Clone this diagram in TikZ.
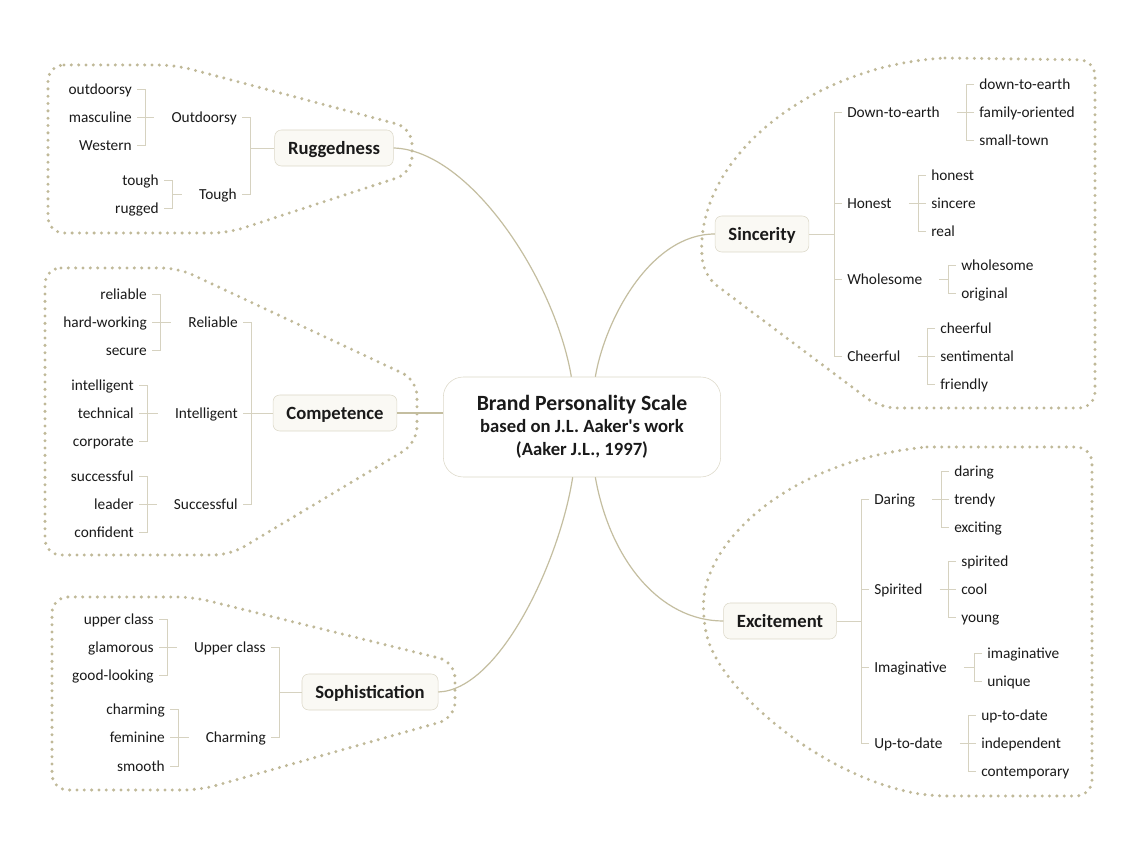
\documentclass[tikz,border=0pt]{standalone}
\usepackage{fontspec}
\setmainfont{Carlito}[Ligatures=TeXOff]
\definecolor{dotline}{RGB}{192,185,152}
\definecolor{branchline}{RGB}{196,190,160}
\definecolor{twigline}{RGB}{214,210,192}
\definecolor{boxfill}{RGB}{250,249,244}
\definecolor{boxline}{RGB}{220,216,200}
\definecolor{inktext}{RGB}{26,26,26}
\begin{document}
\begin{tikzpicture}[x=0.75pt,y=-0.75pt,
    leaf/.style={font=\fontsize{11.5}{13}\selectfont, text=inktext, inner xsep=3.75pt, inner ysep=1pt, text height=10.5pt, text depth=2pt},
    topic/.style={draw=boxline, fill=boxfill, rounded corners=5pt, font=\fontsize{14}{16}\selectfont\bfseries, text=inktext, minimum height=27pt, inner xsep=10pt, text height=12pt, text depth=2pt},
    titlebox/.style={draw=boxline, fill=white, rounded corners=15pt, font=\fontsize{14}{17.5}\selectfont\bfseries, text=inktext, align=center, minimum width=208pt, minimum height=75pt},
    twig/.style={draw=twigline, line width=0.6pt},
    branch/.style={draw=branchline, line width=0.9pt},
    boundary/.style={draw=dotline, line width=2.5pt, line cap=round, dash pattern=on 0pt off 5.5pt, rounded corners=12pt}]
  \fill[white] (0,0) rectangle (1140,855);
  \useasboundingbox (0,0) rectangle (1140,855);

  \draw[boundary] (48,65) -- (175,65) -- (412,128) -- (412,173) -- (228,233) -- (48,233) -- cycle;
  \draw[boundary] (45,268) -- (178,268) -- (417,380) -- (417,443) -- (230,555) -- (45,555) -- cycle;
  \draw[boundary] (52,597) -- (193,597) -- (455,662) -- (455,718) -- (200,790) -- (52,790) -- cycle;
  \draw[boundary] (945,58) -- (1095,60) -- (1095,408) -- (880,408) -- (704,276) .. controls (692,160) and (810,65) .. (945,58);
  \draw[boundary] (927,447) -- (1092,447) -- (1092,796) -- (930,796) .. controls (820,775) and (720,690) .. (703,620) .. controls (705,540) and (790,460) .. (927,447);

  \node[titlebox] (title) at (582,427) {\raisebox{-3.5pt}{\fontsize{16.3}{17.5}\selectfont Brand Personality Scale}\\\raisebox{-2.5pt}{based on J.L. Aaker's work}\\\raisebox{-2.5pt}{(Aaker J.L., 1997)}};

  \node[topic] (rug) at (334,148) {Ruggedness};
  \node[topic] (com) at (335,413) {Competence};
  \node[topic] (sop) at (370,692) {Sophistication};
  \node[topic] (sin) at (762,234) {Sincerity};
  \node[topic] (exc) at (780,621) {Excitement};

  \draw[branch] (rug.east) .. controls (470,150) and (555,280) .. ([xshift=-8pt]title.north);
  \draw[branch] (com.east) -- (com.east -| title.west);
  \draw[branch] (sop.east) .. controls (500,690) and (560,560) .. ([xshift=-7pt]title.south);
  \draw[branch] (sin.west) .. controls (650,234) and (605,320) .. ([xshift=10pt]title.north);
  \draw[branch] ([xshift=10pt]title.south) .. controls (610,560) and (660,621) .. (exc.west);

  % Ruggedness
  \coordinate (rug-v) at (250,148);
  \node[leaf, anchor=east] (rug-out) at (242,117) {Outdoorsy};
  \node[leaf, anchor=east] (rug-tou) at (242,194) {Tough};
  \foreach \s in {out,tou} \draw[twig] (rug-\s.east) -| (rug-v);
  \draw[twig] (rug-v) -- (rug.west);
  \coordinate (rug-out-v) at (145,117);
  \foreach \n/\y/\t in {1/89/outdoorsy,2/117/masculine,3/145/Western} {
    \node[leaf, anchor=east] (rug-out-\n) at (137,\y) {\t};
    \draw[twig] (rug-out-\n.east) -| (rug-out-v);
  }
  \draw[twig] (rug-out-v) -- ([xshift=-9pt]rug-out.west);
  \coordinate (rug-tou-v) at (172,194);
  \foreach \n/\y/\t in {1/180/tough,2/208/rugged} {
    \node[leaf, anchor=east] (rug-tou-\n) at (164,\y) {\t};
    \draw[twig] (rug-tou-\n.east) -| (rug-tou-v);
  }
  \draw[twig] (rug-tou-v) -- ([xshift=-9pt]rug-tou.west);

  % Competence
  \coordinate (com-v) at (251,413);
  \node[leaf, anchor=east] (com-rel) at (243,322) {Reliable};
  \node[leaf, anchor=east] (com-int) at (243,413) {Intelligent};
  \node[leaf, anchor=east] (com-suc) at (243,504) {Successful};
  \foreach \s in {rel,int,suc} \draw[twig] (com-\s.east) -| (com-v);
  \draw[twig] (com-v) -- (com.west);
  \coordinate (com-rel-v) at (160,322);
  \foreach \n/\y/\t in {1/294/reliable,2/322/hard-working,3/350/secure} {
    \node[leaf, anchor=east] (com-rel-\n) at (152,\y) {\t};
    \draw[twig] (com-rel-\n.east) -| (com-rel-v);
  }
  \draw[twig] (com-rel-v) -- ([xshift=-9pt]com-rel.west);
  \coordinate (com-int-v) at (147,413);
  \foreach \n/\y/\t in {1/385/intelligent,2/413/technical,3/441/corporate} {
    \node[leaf, anchor=east] (com-int-\n) at (139,\y) {\t};
    \draw[twig] (com-int-\n.east) -| (com-int-v);
  }
  \draw[twig] (com-int-v) -- ([xshift=-9pt]com-int.west);
  \coordinate (com-suc-v) at (147,504);
  \foreach \n/\y/\t in {1/476/successful,2/504/leader,3/532/confident} {
    \node[leaf, anchor=east] (com-suc-\n) at (139,\y) {\t};
    \draw[twig] (com-suc-\n.east) -| (com-suc-v);
  }
  \draw[twig] (com-suc-v) -- ([xshift=-9pt]com-suc.west);

  % Sophistication
  \coordinate (sop-v) at (279,692);
  \node[leaf, anchor=east] (sop-upp) at (271,647) {Upper class};
  \node[leaf, anchor=east] (sop-cha) at (271,737) {Charming};
  \foreach \s in {upp,cha} \draw[twig] (sop-\s.east) -| (sop-v);
  \draw[twig] (sop-v) -- (sop.west);
  \coordinate (sop-upp-v) at (167,647);
  \foreach \n/\y/\t in {1/619/upper class,2/647/glamorous,3/675/good-looking} {
    \node[leaf, anchor=east] (sop-upp-\n) at (159,\y) {\t};
    \draw[twig] (sop-upp-\n.east) -| (sop-upp-v);
  }
  \draw[twig] (sop-upp-v) -- ([xshift=-9pt]sop-upp.west);
  \coordinate (sop-cha-v) at (178,737);
  \foreach \n/\y/\t in {1/709/charming,2/737/feminine,3/766/smooth} {
    \node[leaf, anchor=east] (sop-cha-\n) at (170,\y) {\t};
    \draw[twig] (sop-cha-\n.east) -| (sop-cha-v);
  }
  \draw[twig] (sop-cha-v) -- ([xshift=-9pt]sop-cha.west);

  % Sincerity
  \coordinate (sin-v) at (834,234);
  \node[leaf, anchor=west] (sin-dow) at (842,112) {Down-to-earth};
  \node[leaf, anchor=west] (sin-hon) at (842,203) {Honest};
  \node[leaf, anchor=west] (sin-who) at (842,279) {Wholesome};
  \node[leaf, anchor=west] (sin-che) at (842,356) {Cheerful};
  \foreach \s in {dow,hon,who,che} \draw[twig] (sin-\s.west) -| (sin-v);
  \draw[twig] (sin.east) -- (sin-v);
  \coordinate (sin-dow-v) at (966,112);
  \foreach \n/\y/\t in {1/84/down-to-earth,2/112/family-oriented,3/140/small-town} {
    \node[leaf, anchor=west] (sin-dow-\n) at (974,\y) {\t};
    \draw[twig] (sin-dow-\n.west) -| (sin-dow-v);
  }
  \draw[twig] ([xshift=9pt]sin-dow.east) -- (sin-dow-v);
  \coordinate (sin-hon-v) at (918,203);
  \foreach \n/\y/\t in {1/175/honest,2/203/sincere,3/231/real} {
    \node[leaf, anchor=west] (sin-hon-\n) at (926,\y) {\t};
    \draw[twig] (sin-hon-\n.west) -| (sin-hon-v);
  }
  \draw[twig] ([xshift=9pt]sin-hon.east) -- (sin-hon-v);
  \coordinate (sin-who-v) at (948,279);
  \foreach \n/\y/\t in {1/265/wholesome,2/293/original} {
    \node[leaf, anchor=west] (sin-who-\n) at (956,\y) {\t};
    \draw[twig] (sin-who-\n.west) -| (sin-who-v);
  }
  \draw[twig] ([xshift=9pt]sin-who.east) -- (sin-who-v);
  \coordinate (sin-che-v) at (927,356);
  \foreach \n/\y/\t in {1/328/cheerful,2/356/sentimental,3/384/friendly} {
    \node[leaf, anchor=west] (sin-che-\n) at (935,\y) {\t};
    \draw[twig] (sin-che-\n.west) -| (sin-che-v);
  }
  \draw[twig] ([xshift=9pt]sin-che.east) -- (sin-che-v);

  % Excitement
  \coordinate (exc-v) at (861,621);
  \node[leaf, anchor=west] (exc-dar) at (869,499) {Daring};
  \node[leaf, anchor=west] (exc-spi) at (869,589) {Spirited};
  \node[leaf, anchor=west] (exc-ima) at (869,667) {Imaginative};
  \node[leaf, anchor=west] (exc-upt) at (869,743) {Up-to-date};
  \foreach \s in {dar,spi,ima,upt} \draw[twig] (exc-\s.west) -| (exc-v);
  \draw[twig] (exc.east) -- (exc-v);
  \coordinate (exc-dar-v) at (941,499);
  \foreach \n/\y/\t in {1/471/daring,2/499/trendy,3/527/exciting} {
    \node[leaf, anchor=west] (exc-dar-\n) at (949,\y) {\t};
    \draw[twig] (exc-dar-\n.west) -| (exc-dar-v);
  }
  \draw[twig] ([xshift=9pt]exc-dar.east) -- (exc-dar-v);
  \coordinate (exc-spi-v) at (948,589);
  \foreach \n/\y/\t in {1/561/spirited,2/589/cool,3/617/young} {
    \node[leaf, anchor=west] (exc-spi-\n) at (956,\y) {\t};
    \draw[twig] (exc-spi-\n.west) -| (exc-spi-v);
  }
  \draw[twig] ([xshift=9pt]exc-spi.east) -- (exc-spi-v);
  \coordinate (exc-ima-v) at (974,667);
  \foreach \n/\y/\t in {1/653/imaginative,2/681/unique} {
    \node[leaf, anchor=west] (exc-ima-\n) at (982,\y) {\t};
    \draw[twig] (exc-ima-\n.west) -| (exc-ima-v);
  }
  \draw[twig] ([xshift=9pt]exc-ima.east) -- (exc-ima-v);
  \coordinate (exc-upt-v) at (968,743);
  \foreach \n/\y/\t in {1/715/up-to-date,2/743/independent,3/771/contemporary} {
    \node[leaf, anchor=west] (exc-upt-\n) at (976,\y) {\t};
    \draw[twig] (exc-upt-\n.west) -| (exc-upt-v);
  }
  \draw[twig] ([xshift=9pt]exc-upt.east) -- (exc-upt-v);
\end{tikzpicture}
\end{document}
